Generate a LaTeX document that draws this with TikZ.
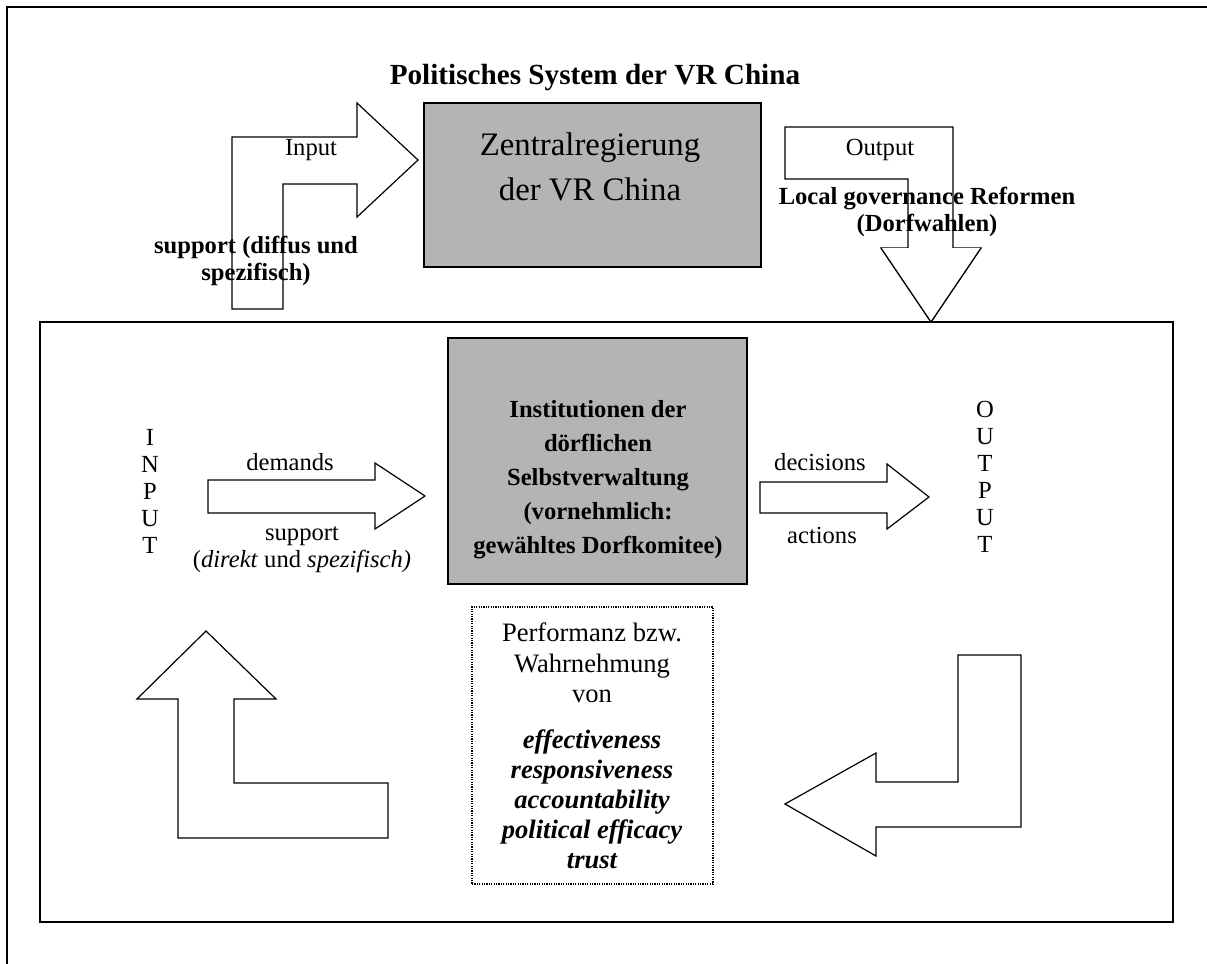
\documentclass[tikz,border=0pt]{standalone}
\usepackage{fontspec}
\setmainfont{Liberation Serif}
\definecolor{boxgray}{RGB}{180,180,180}
\begin{document}
\begin{tikzpicture}[x=0.5pt,y=-0.5pt,
  normal/.style={font=\fontsize{12.3}{13.5}\selectfont, inner sep=0pt, align=center},
  boldtxt/.style={font=\fontsize{12.3}{13.5}\selectfont\bfseries, inner sep=0pt, align=center},
  perf/.style={font=\fontsize{13.3}{15.2}\selectfont, inner sep=0pt, align=center},
  blockarrow/.style={draw=black, line width=0.6pt, fill=white, line join=miter},
  graybox/.style={draw=black, line width=0.75pt, fill=boxgray, inner sep=0pt},
]
\useasboundingbox (0,0) rectangle (1207,964);
% outer frame (partly outside the page)
\draw[line width=1pt] (7,964) -- (7,7) -- (1207,7);

% title
\node[font=\fontsize{14.6}{16}\selectfont\bfseries, inner sep=0pt] (title) at (595,78) {Politisches System der VR China};

% central government box
\node[graybox, minimum width=168.5pt, minimum height=82pt] (zr) at (592.5,185) {};
\node[font=\fontsize{16.4}{22.5}\selectfont, inner sep=0pt, align=center] (zrt) at (590,167) {Zentralregierung\\der VR China};

% input arrow (top left)
\draw[blockarrow] (232,309) -- (232,137) -- (357,137) -- (357,103) -- (418,160) -- (357,217) -- (357,184) -- (283,184) -- (283,309) -- cycle;
\node[normal] (inp) at (311,150) {Input};
\node[boldtxt] (supp) at (256,261) {support (diffus und\\spezifisch)};

% output arrow (top right)
\draw[blockarrow] (785,127) -- (953,127) -- (953,248) -- (981,248) -- (931,322) -- (881,248) -- (908,248) -- (908,179) -- (785,179) -- cycle;
\node[normal] (outp) at (880,150) {Output};
\node[boldtxt] (lgr) at (927,212) {Local governance Reformen\\(Dorfwahlen)};

% inner frame
\node[draw, line width=0.75pt, minimum width=566.5pt, minimum height=300pt, inner sep=0pt] (village) at (606.5,622) {};
\draw[blockarrow] (981,248) -- (931,322) -- (881,248);

% village institutions box
\node[graybox, minimum width=149.5pt, minimum height=123pt] (inst) at (597.5,461) {};
\node[boldtxt, font=\fontsize{12.3}{17}\selectfont\bfseries] (instt) at (598,480) {Institutionen der\\dörflichen\\Selbstverwaltung\\(vornehmlich:\\gewähltes Dorfkomitee)};

% INPUT / OUTPUT letters
\node[normal] (INPUT) at (150,491) {I\\N\\P\\U\\T};
\node[normal] (OUTPUT) at (985,477) {O\\U\\T\\P\\U\\T};

% demands arrow
\draw[blockarrow] (208,480) -- (375,480) -- (375,463) -- (425,496) -- (375,529) -- (375,513) -- (208,513) -- cycle;
\node[normal] (dem) at (290,462) {demands};
\node[normal] (sup2) at (302,550) {support\\(\textit{direkt} und \textit{spezifisch)}};

% decisions arrow
\draw[blockarrow] (760,482) -- (887,482) -- (887,464) -- (929,497) -- (887,529) -- (887,513) -- (760,513) -- cycle;
\node[normal] (dec) at (820,462) {decisions};
\node[normal] (act) at (822,535) {actions};

% performance box
\node[draw, dash pattern=on 0.6pt off 0.6pt, line width=0.6pt, minimum width=120.5pt, minimum height=138.5pt, inner sep=0pt] (perfbox) at (592.5,745.5) {};
\node[perf] (perft) at (592,663) {Performanz bzw.\\Wahrnehmung\\von};
\node[perf, font=\fontsize{13.3}{15}\selectfont\bfseries\itshape] (perfi) at (592,799) {effectiveness\\responsiveness\\accountability\\political efficacy\\trust};

% feedback arrows
\draw[blockarrow] (206,631) -- (276,699) -- (234,699) -- (234,783) -- (388,783) -- (388,838) -- (178,838) -- (178,699) -- (137,699) -- cycle;
\draw[blockarrow] (958,655) -- (1021,655) -- (1021,827) -- (876,827) -- (876,856) -- (785,804) -- (876,753) -- (876,782) -- (958,782) -- cycle;
\end{tikzpicture}
\end{document}
